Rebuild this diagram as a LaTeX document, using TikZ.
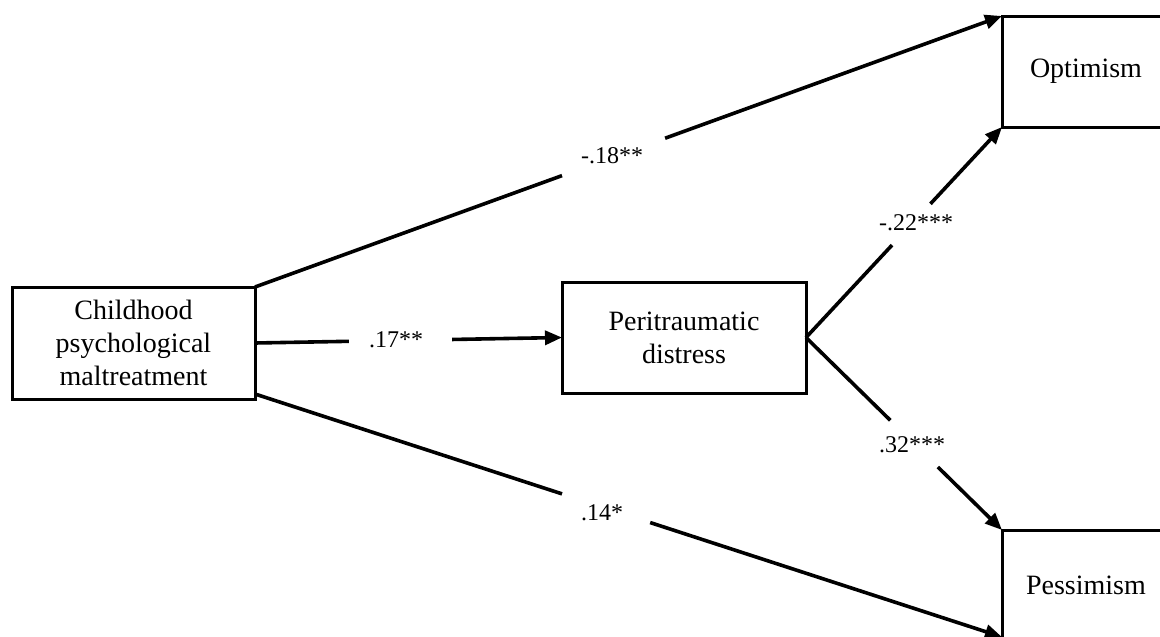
\documentclass[tikz,border=0pt]{standalone}
\usepackage{fontspec}
\setmainfont{Liberation Serif}
\usetikzlibrary{arrows.meta}
\begin{document}
\begin{tikzpicture}[x=1pt,y=-1pt,
  box/.style={draw=black, line width=3pt, fill=white, outer sep=0pt, inner sep=0pt,
     align=center, font=\fontsize{28}{33}\selectfont},
  conn/.style={draw=black, line width=3.6pt},
  arr/.style={conn, -{Triangle[length=17pt,width=14pt]}},
  lab/.style={font=\fontsize{24}{28}\selectfont, inner sep=0pt}]
\useasboundingbox (0,0) rectangle (1160,637);
\fill[white] (0,0) rectangle (1160,637);
% boxes
\node[box, minimum width=243pt, minimum height=112pt] (cpm) at (133.5,343) {Childhood\\psychological\\maltreatment};
\node[box, minimum width=244pt, minimum height=111pt] (peri) at (684,337.5) {Peritraumatic\\distress};
\node[box, minimum width=168pt, minimum height=111pt] (opt) at (1086,71.5) {Optimism};
\node[box, minimum width=168pt, minimum height=111pt] (pes) at (1086,585.5) {Pessimism};
% connector 1: cpm -> opt
\path (cpm.north east) -- coordinate[pos=.411] (a1) coordinate[pos=.549] (b1) (opt.north west);
\draw[conn] (cpm.north east) -- (a1);
\draw[arr] (b1) -- (opt.north west);
\node[lab] (l1) at (612,156) {-.18**};
% connector 2: cpm -> peri
\path (cpm.east) -- coordinate[pos=.306] (a2) coordinate[pos=.642] (b2) (peri.west);
\draw[conn] (cpm.east) -- (a2);
\draw[arr] (b2) -- (peri.west);
\node[lab] (l2) at (396,340) {.17**};
% connector 3: cpm -> pes
\coordinate (s3) at ([yshift=5pt]cpm.south east);
\coordinate (e3) at ([yshift=4pt]pes.south west);
\path (s3) -- coordinate[pos=.411] (a3) coordinate[pos=.529] (b3) (e3);
\draw[conn] (s3) -- (a3);
\draw[arr] (b3) -- (e3);
\node[lab] (l3) at (602,513) {.14*};
% connector 4: peri -> opt
\path (peri.east) -- coordinate[pos=.439] (a4) coordinate[pos=.635] (b4) (opt.south west);
\draw[conn] (peri.east) -- (a4);
\draw[arr] (b4) -- (opt.south west);
\node[lab] (l4) at (916,223) {-.22***};
% connector 5: peri -> pes
\path (peri.east) -- coordinate[pos=.43] (a5) coordinate[pos=.673] (b5) (pes.north west);
\draw[conn] (peri.east) -- (a5);
\draw[arr] (b5) -- (pes.north west);
\node[lab] (l5) at (912,445) {.32***};
\end{tikzpicture}
\end{document}
